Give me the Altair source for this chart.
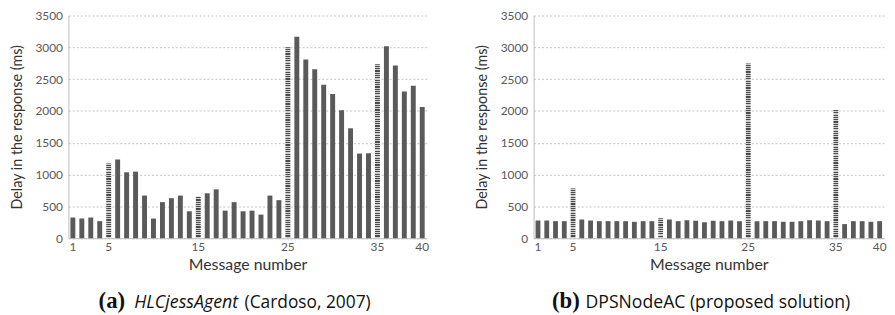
import altair as alt
import pandas as pd

messages = list(range(1, 41))
delay_a = [325, 310, 325, 268, 1175, 1237, 1036, 1046, 670, 309,
           567, 629, 670, 423, 650, 706, 768, 433, 567, 423,
           433, 371, 670, 598, 3000, 3165, 2810, 2655, 2412, 2268,
           2010, 1727, 1330, 1335, 2732, 3015, 2716, 2304, 2397, 2062]
delay_b = [278, 278, 268, 268, 783, 294, 278, 268, 268, 268,
           268, 258, 268, 268, 314, 294, 268, 283, 273, 252,
           273, 268, 278, 268, 2745, 268, 268, 268, 258, 258,
           268, 283, 278, 268, 2015, 222, 268, 268, 258, 268]
hatched = [5, 15, 25, 35]
x_labels = [1, 5, 15, 25, 35, 40]
y_ticks = [0, 500, 1000, 1500, 2000, 2500, 3000, 3500]

H = 225
YMAX = 3500
BAR = "#5a5a5a"
LABEL_FONT = "Lato"
CAP_FONT = "Open Sans"


def stripe_gradient(px_height):
    n = max(2, int(round(px_height / 1.8)))
    stops = []
    for i in range(n):
        a = i / n
        m = (i + 0.5) / n
        b = (i + 1) / n
        stops += [
            alt.GradientStop(color="#4a4a4a", offset=a),
            alt.GradientStop(color="#4a4a4a", offset=m),
            alt.GradientStop(color="#d0d0d0", offset=m),
            alt.GradientStop(color="#d0d0d0", offset=b),
        ]
    return alt.LinearGradient(gradient="linear", stops=stops, x1=0, x2=0, y1=0, y2=1)


def panel(values, width, captions):
    df = pd.DataFrame({"msg": messages, "delay": values})
    df["kind"] = ["hatch" if m in hatched else "solid" for m in messages]
    base = alt.Chart(df)
    x = alt.X(
        "msg:O",
        scale=alt.Scale(paddingInner=0.45, paddingOuter=0.225),
        axis=alt.Axis(
            values=x_labels, labelAngle=0, ticks=False, labelPadding=3,
            title="Message number", titlePadding=5, titleFontSize=16,
            titleFont=LABEL_FONT, titleFontWeight="normal", titleColor="#333333",
            labelFont=LABEL_FONT, labelFontSize=12, labelColor="#595959",
            domainColor="#bfbfbf", grid=False,
        ),
    )
    y = alt.Y(
        "delay:Q",
        scale=alt.Scale(domain=[0, YMAX], nice=False),
        axis=alt.Axis(
            values=y_ticks, format="d", ticks=False, labelPadding=6,
            title="Delay in the response (ms)", titlePadding=11, titleFontSize=14.5,
            titleFont=LABEL_FONT, titleFontWeight="normal", titleColor="#333333",
            labelFont=LABEL_FONT, labelFontSize=12, labelColor="#595959",
            domainColor="#bfbfbf", gridColor="#c4c4c4", gridDash=[2, 2],
        ),
    )
    layers = [
        base.mark_bar(color=BAR).encode(x=x, y=y).transform_filter(alt.datum.kind == "solid")
    ]
    for m in hatched:
        v = values[m - 1]
        layers.append(
            base.mark_bar(color=stripe_gradient(v / YMAX * H))
            .encode(x=x, y=y)
            .transform_filter(alt.datum.msg == m)
        )
    for text, dx, font, size, weight, style in captions:
        layers.append(
            alt.Chart(alt.Data(values=[{"t": text}]))
            .mark_text(align="left", baseline="alphabetic", font=font, fontSize=size,
                       fontWeight=weight, fontStyle=style, color="#111111")
            .encode(text="t:N", x=alt.value(dx), y=alt.value(H + 70))
        )
    return alt.layer(*layers).properties(width=width, height=H)


left = panel(delay_a, 362, [
    ("(a)", 30.5, "Liberation Serif", 23, "bold", "normal"),
    ("HLCjessAgent", 66.5, CAP_FONT, 18, "normal", "italic"),
    ("(Cardoso, 2007)", 178, CAP_FONT, 17.5, "normal", "normal"),
])
right = panel(delay_b, 354, [
    ("(b)", 18.5, "Liberation Serif", 23, "bold", "normal"),
    ("DPSNodeAC (proposed solution)", 52.5, CAP_FONT, 17.8, "normal", "normal"),
])

chart = alt.hconcat(left, right, spacing=46).properties(
    padding={"left": 1, "top": 0, "right": 0, "bottom": 0}
).configure_view(stroke=None)

chart.save("out.html", embed_options={"renderer": "svg", "actions": False})
